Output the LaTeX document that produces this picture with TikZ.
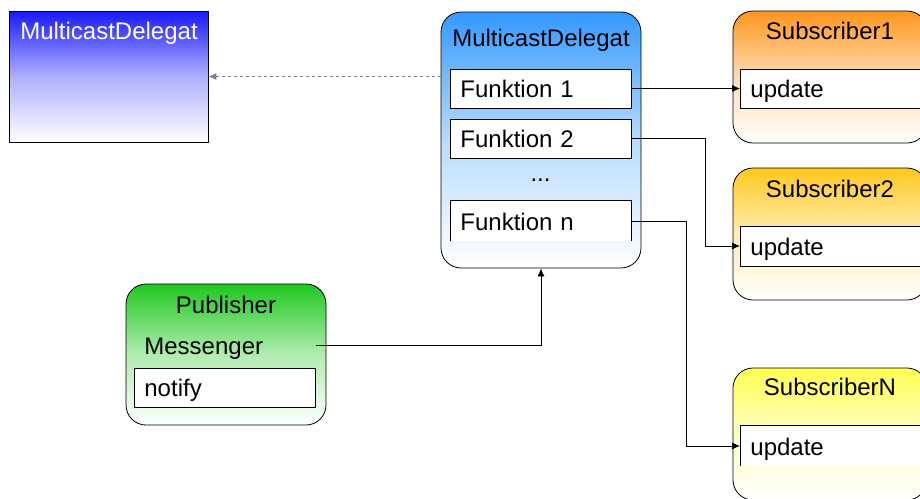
\documentclass[tikz,border=0pt]{standalone}
\usepackage{fontspec}
\setmainfont{Liberation Sans}
\usetikzlibrary{arrows.meta,calc}
\definecolor{delegblue}{RGB}{25,25,255}
\definecolor{mcblue}{RGB}{51,153,255}
\definecolor{suborange}{RGB}{255,150,30}
\definecolor{subamber}{RGB}{255,200,30}
\definecolor{subyellow}{RGB}{255,255,80}
\definecolor{pubgreen}{RGB}{30,200,30}
\begin{document}
\begin{tikzpicture}[x=1pt,y=-1pt,
  lbl/.style={font=\fontsize{24}{28}\selectfont, text height=18pt, text depth=0pt},
  classbox/.style={draw=black, line width=0.8pt, rounded corners=20pt, inner sep=0pt},
  member/.style={lbl, fill=white, line width=0.8pt, minimum height=39pt,
                 inner xsep=10pt, inner ysep=0pt, align=left, anchor=west},
  link/.style={line width=0.8pt, -{Latex[length=8pt,width=7pt]}},
  shade/.style={top color=#1, bottom color=white, middle color=#1!35!white}]
  \clip (0,0) rectangle (920,498);

  % plain delegate class
  \node[draw, line width=0.8pt, minimum width=199pt, minimum height=131pt,
        inner sep=0pt, shade=delegblue] (delegL) at (108.5,76.5) {};
  \node[lbl, text=white] (delegLtitle) at (109,30.5) {MulticastDelegat};

  % multicast delegate with its function list
  \node[classbox, minimum width=200pt, minimum height=256pt, shade=mcblue] (mcd) at (541,140) {};
  \node[lbl] (mcdtitle) at (541,37.5) {MulticastDelegat};
  \node[member, draw, text width=161pt] (f1) at (450,88.5) {Funktion 1};
  \node[member, draw, text width=161pt] (f2) at (450,138.5) {Funktion 2};
  \node[font=\fontsize{24}{28}\selectfont, anchor=base] (dots) at (540.5,181) {...};
  \node[member, text width=161pt, minimum height=40pt] (fn) at (450,221) {Funktion n};
  \draw[line width=0.8pt] (fn.south west) |- (fn.north east) -- (fn.south east);

  % subscribers
  \node[classbox, minimum width=194pt, minimum height=132pt, shade=suborange] (sub1) at (830,77) {};
  \node[lbl] (sub1title) at (830,30.5) {Subscriber1};
  \node[member, draw, text width=170pt] (u1) at (740,88.5) {update};

  \node[classbox, minimum width=194pt, minimum height=132pt, shade=subamber] (sub2) at (830,234) {};
  \node[lbl] (sub2title) at (830,188) {Subscriber2};
  \node[member, draw, text width=170pt, minimum height=40pt] (u2) at (740,246) {update};

  \node[classbox, minimum width=194pt, minimum height=132pt, shade=subyellow] (subN) at (830,434) {};
  \node[lbl] (subNtitle) at (830,386.5) {SubscriberN};
  \node[member, text width=170pt, minimum height=40pt] (uN) at (740,446) {update};
  \draw[line width=0.8pt] (uN.south west) |- (uN.north east);

  % publisher
  \node[classbox, minimum width=200pt, minimum height=141pt, shade=pubgreen] (pub) at (226,354.5) {};
  \node[lbl] (pubtitle) at (226,304) {Publisher};
  \node[member, text width=161pt, fill=none] (msg) at (134,345) {Messenger};
  \node[member, draw, text width=161pt] (notify) at (134,387.5) {notify};

  % connectors
  \draw[line width=0.8pt, gray, dashed, -{Latex[length=8pt,width=7pt]}]
        (mcd.west |- delegL.east) -- (delegL.east);
  \draw[link] (f1.east) -- (u1.west);
  \draw[link] (f2.east) -- ++(74,0) |- (u2.west);
  \draw[link] (fn.east) -- ++(55,0) |- (uN.west);
  \draw[link] (msg.east) -| (mcd.south);
\end{tikzpicture}
\end{document}
